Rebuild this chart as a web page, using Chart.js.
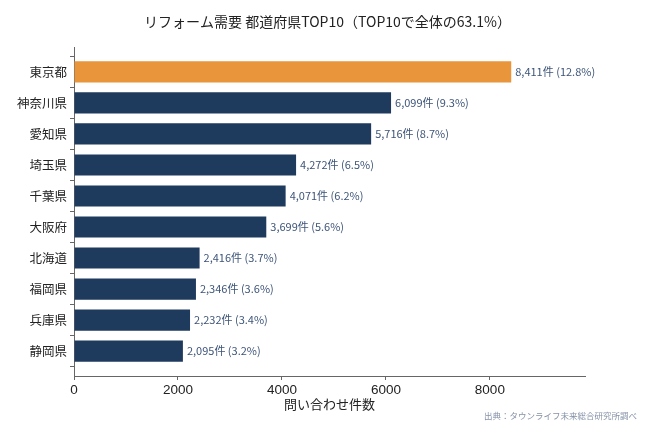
<!DOCTYPE html>
<html>
<head>
<meta charset="utf-8">
<script src="https://cdn.jsdelivr.net/npm/chart.js@4"></script>
<style>
  html, body { margin: 0; padding: 0; background: #fff; }
  #wrap { width: 655px; height: 436px; }
</style>
</head>
<body>
<div id="wrap"><canvas id="chart" width="655" height="436"></canvas></div>
<script>
// Reform demand by prefecture, top 10
const PREFS = ['東京都', '神奈川県', '愛知県', '埼玉県', '千葉県', '大阪府', '北海道', '福岡県', '兵庫県', '静岡県'];
const COUNTS = [8411, 6099, 5716, 4272, 4071, 3699, 2416, 2346, 2232, 2095];
const SHARES = [12.8, 9.3, 8.7, 6.5, 6.2, 5.6, 3.7, 3.6, 3.4, 3.2];
const X_TICKS = [0, 2000, 4000, 6000, 8000];
const TITLE = 'リフォーム需要 都道府県TOP10（TOP10で全体の63.1%）';
const SOURCE = '出典：タウンライフ未来総合研究所調べ';

const FONT = '"Noto Sans CJK JP", "Noto Sans", sans-serif';
const NUM_FONT = '"Liberation Sans", Arial, sans-serif';
const ORANGE = '#E8953B';
const NAVY = '#1E3A5C';
const AXIS = '#666';

// title centred on the page, value labels after each bar, source note
const labelPlugin = {
    id: 'barLabels',
    afterDatasetsDraw(chart) {
        const ctx = chart.ctx;
        const meta = chart.getDatasetMeta(0);
        ctx.save();
        ctx.font = '11px ' + FONT;
        ctx.fillStyle = '#3D5478';
        ctx.textAlign = 'left';
        ctx.textBaseline = 'middle';
        meta.data.forEach((bar, i) => {
            const txt = COUNTS[i].toLocaleString('en-US') + '件 (' + SHARES[i].toFixed(1) + '%)';
            ctx.fillText(txt, bar.x + 4, bar.y);
        });

        ctx.font = '14px ' + FONT;
        ctx.fillStyle = '#222';
        ctx.textAlign = 'center';
        ctx.fillText(TITLE, chart.width / 2, 22);

        ctx.font = '8.5px ' + FONT;
        ctx.fillStyle = '#8492A8';
        ctx.textAlign = 'right';
        ctx.fillText(SOURCE, chart.width - 18, chart.height - 20);
        ctx.restore();
    }
};

new Chart(document.getElementById('chart'), {
    type: 'bar',
    data: {
        datasets: [{
            data: COUNTS.map((v, i) => ({ x: v, y: i })),
            backgroundColor: COUNTS.map((_, i) => i === 0 ? ORANGE : NAVY),
            barPercentage: 0.68,
            categoryPercentage: 1,
            borderWidth: 0,
        }]
    },
    options: {
        indexAxis: 'y',
        responsive: false,
        animation: false,
        layout: { padding: { left: 0, right: 70, top: 47, bottom: 24 } },
        plugins: {
            legend: { display: false },
            tooltip: { enabled: false },
            title: { display: false }
        },
        scales: {
            x: {
                type: 'linear',
                min: 0,
                max: 9830,
                afterBuildTicks: s => { s.ticks = X_TICKS.map(v => ({ value: v })); },
                afterFit: s => { s.height = 36; },
                ticks: { color: '#222', font: { family: NUM_FONT, size: 13.5 }, padding: 2, callback: v => String(v) },
                grid: { drawOnChartArea: false, drawTicks: true, tickLength: 4, color: AXIS },
                border: { display: true, color: AXIS, width: 1 },
                title: {
                    display: true,
                    text: '問い合わせ件数',
                    color: '#222',
                    font: { family: FONT, size: 13 },
                    padding: { top: 0, bottom: 0 }
                }
            },
            y: {
                type: 'linear',
                reverse: true,
                offset: false,
                min: -0.8,
                max: 9.8,
                afterBuildTicks: s => { s.ticks = PREFS.map((_, i) => ({ value: i })); },
                afterFit: s => { s.width = 74; },
                ticks: {
                    color: '#222',
                    font: { family: FONT, size: 12.5 },
                    padding: 3,
                    callback: v => PREFS[v]
                },
                grid: { drawOnChartArea: false, drawTicks: true, tickLength: 4, color: AXIS },
                border: { display: true, color: AXIS, width: 1 }
            }
        }
    },
    plugins: [labelPlugin]
});
</script>
</body>
</html>
